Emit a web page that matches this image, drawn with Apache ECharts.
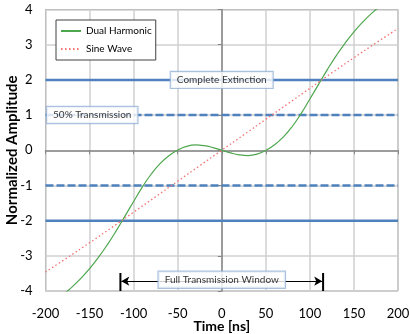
<!DOCTYPE html>
<html>
<head>
<meta charset="utf-8">
<script src="https://cdn.jsdelivr.net/npm/echarts@6/dist/echarts.min.js"></script>
<style>
  html, body { margin: 0; padding: 0; background: #fff; }
  #chart { width: 410px; height: 334px; }
</style>
</head>
<body>
<div id="chart"></div>
<script>
// curve samples
const dualX = [-180, -170, -160, -150, -140, -130, -120, -110, -100, -90, -80, -70, -60, -50, -40, -30, -20, -10, 0,
  10, 20, 30, 40, 50, 60, 70, 80, 90, 100, 110, 120, 130, 140, 150, 160, 170, 180]
const dualY = [-4.10, -3.89, -3.645, -3.365, -3.045, -2.69, -2.30, -1.88, -1.455, -1.04, -0.675, -0.38, -0.155, 0.005, 0.11, 0.15, 0.13, 0.075, 0,
  -0.075, -0.13, -0.15, -0.11, -0.005, 0.155, 0.38, 0.675, 1.04, 1.455, 1.88, 2.30, 2.69, 3.045, 3.365, 3.645, 3.89, 4.10]
const sineX = [-200, -175, -150, -125, -100, -75, -50, -25, 0, 25, 50, 75, 100, 125, 150, 175, 200]
const sineY = [-3.46, -3.05, -2.63, -2.20, -1.76, -1.32, -0.88, -0.44, 0, 0.44, 0.88, 1.32, 1.76, 2.20, 2.63, 3.05, 3.46]

const solidLevels = [2, -2]
const dashedLevels = [1, -1]
const windowEdge = 115
const boxLabels = ['Complete Extinction', '50% Transmission', 'Full Transmission Window']
const boxX = [0, -147, 0]
const boxY = [2, 1, -3.68]

const font = 'Lato, "Open Sans", sans-serif'
const chart = echarts.init(document.getElementById('chart'))

const levelSeries = []
solidLevels.forEach(v => {
  levelSeries.push({
    type: 'line', data: [[-200, v], [200, v]], symbol: 'none', silent: true, z: 2,
    lineStyle: { color: '#4f81bd', width: 2.5 }
  })
})
dashedLevels.forEach(v => {
  levelSeries.push({
    type: 'line', data: [[-200, v], [200, v]], symbol: 'none', silent: true, z: 2,
    lineStyle: { color: '#4f81bd', width: 2.5, type: [8, 3] }
  })
})

const option = {
  animation: false,
  grid: {
    left: 45.5, right: 12, top: 9.5, bottom: 43, show: true, borderColor: '#868686', borderWidth: 1,
    containLabel: false, outerBoundsMode: 'none'
  },
  legend: {
    data: ['Dual Harmonic', 'Sine Wave'],
    orient: 'vertical',
    left: 56, top: 20,
    padding: [6, 4, 6, 4],
    itemGap: 8,
    itemWidth: 20, itemHeight: 8,
    backgroundColor: '#fff',
    borderColor: '#404040', borderWidth: 1,
    itemStyle: { opacity: 0 },
    textStyle: { fontFamily: font, fontSize: 10, color: '#000' }
  },
  xAxis: {
    type: 'value', min: -200, max: 200, interval: 50,
    name: 'Time [ns]', nameLocation: 'middle', nameGap: 28, nameMoveOverlap: false,
    nameTextStyle: { fontFamily: font, fontSize: 14, fontWeight: 'bold', color: '#000' },
    axisLine: { show: true, lineStyle: { color: '#868686', width: 1.5 } },
    axisTick: { show: true, length: 4, lineStyle: { color: '#868686' } },
    axisLabel: { fontFamily: font, fontSize: 13, color: '#000', margin: 16 },
    splitLine: { show: true, lineStyle: { color: '#d0d0d0', width: 1.5 } }
  },
  yAxis: {
    type: 'value', min: -4, max: 4, interval: 1,
    name: 'Normalized Amplitude', nameLocation: 'middle', nameGap: 26, nameMoveOverlap: false,
    nameTextStyle: { fontFamily: font, fontSize: 15, fontWeight: 'bold', color: '#000' },
    axisLine: { show: true, lineStyle: { color: '#868686', width: 1.5 } },
    axisTick: { show: true, length: 4, lineStyle: { color: '#868686' } },
    axisLabel: { fontFamily: font, fontSize: 13, color: '#000', margin: 13 },
    splitLine: { show: true, lineStyle: { color: '#d0d0d0', width: 1.5 } }
  },
  series: [
    ...levelSeries,
    {
      name: 'Dual Harmonic', type: 'line', smooth: 0.5, symbol: 'none', z: 3,
      data: dualX.map((x, i) => [x, dualY[i]]),
      lineStyle: { color: '#4ea64e', width: 1.2 },
      itemStyle: { color: '#4ea64e' }
    },
    {
      name: 'Sine Wave', type: 'line', smooth: 0.5, symbol: 'none', z: 3,
      data: sineX.map((x, i) => [x, sineY[i]]),
      lineStyle: { color: '#f47272', width: 1.3, type: [1.5, 2.5] },
      itemStyle: { color: '#f47272' }
    },
    {
      // window arrows and end bars
      type: 'line', data: [[-windowEdge, -3.49], [-windowEdge, -4]], symbol: 'none', silent: true, z: 4,
      lineStyle: { color: '#000', width: 2 },
      markLine: {
        silent: true, symbol: ['arrow', 'arrow'], symbolSize: [7, 8],
        label: { show: false },
        lineStyle: { color: '#000', width: 1, type: 'solid' },
        data: [[{ coord: [-windowEdge + 1, -3.72] }, { coord: [windowEdge - 1, -3.72] }]]
      }
    },
    {
      type: 'line', data: [[windowEdge, -3.49], [windowEdge, -4]], symbol: 'none', silent: true, z: 4,
      lineStyle: { color: '#000', width: 2 }
    },
    {
      type: 'scatter', symbolSize: 1, z: 10, silent: true,
      itemStyle: { color: 'rgba(0,0,0,0)' },
      data: boxLabels.map((t, i) => ({ name: t, value: [boxX[i], boxY[i]] })),
      label: {
        show: true, position: 'inside', formatter: p => p.name,
        fontFamily: font, fontSize: 10, color: '#000',
        backgroundColor: '#fff', borderColor: '#95b3d7', borderWidth: 1.2,
        padding: [3, 6, 3, 6]
      }
    }
  ]
}
chart.setOption(option)
</script>
</body>
</html>
